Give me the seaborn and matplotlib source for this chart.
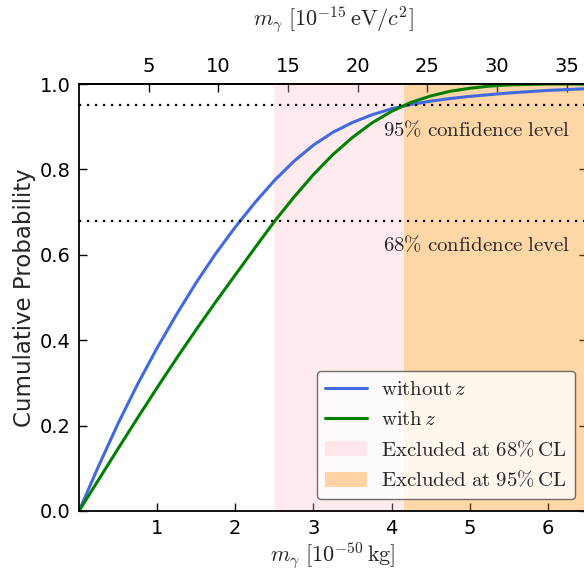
import numpy as np
import pandas as pd
import matplotlib
matplotlib.use("Agg")
import matplotlib.pyplot as plt
import seaborn as sns

# data
mass = [0.0, 0.25, 0.5, 0.75, 1.0, 1.25, 1.5, 1.75, 2.0, 2.25, 2.5, 2.75, 3.0,
        3.25, 3.5, 3.75, 4.0, 4.25, 4.5, 4.75, 5.0, 5.25, 5.5, 5.75, 6.0, 6.25, 6.5]
cdf_without_z = [0.0, 0.105, 0.205, 0.297, 0.382, 0.461, 0.535, 0.603, 0.665, 0.722, 0.774,
                 0.819, 0.857, 0.887, 0.910, 0.928, 0.942, 0.952, 0.960, 0.966, 0.971,
                 0.975, 0.979, 0.982, 0.985, 0.987, 0.989]
cdf_with_z = [0.0, 0.073, 0.146, 0.218, 0.289, 0.358, 0.425, 0.490, 0.553, 0.616, 0.678,
              0.735, 0.788, 0.835, 0.875, 0.909, 0.936, 0.957, 0.972, 0.983, 0.990,
              0.995, 0.998, 0.999, 1.0, 1.0, 1.0]
excl68 = (2.50, 4.16)
excl95 = (4.16, 7.0)
conf_levels = [0.68, 0.95]
conf_labels = [r"$68\%\ \mathrm{confidence\ level}$", r"$95\%\ \mathrm{confidence\ level}$"]
top_ticks = [5, 10, 15, 20, 25, 30, 35]
KG_TO_EV = 5.6096  # 1e-50 kg -> 1e-15 eV/c^2

df = pd.DataFrame({
    "m": mass * 2,
    "p": cdf_without_z + cdf_with_z,
    "series": [r"$\mathrm{without}\,z$"] * len(mass) + [r"$\mathrm{with}\,z$"] * len(mass),
})

sns.set_theme(style="ticks")
plt.rcParams.update({
    "font.family": ["DejaVu Sans"],
    "mathtext.fontset": "cm",
    "xtick.direction": "in",
    "ytick.direction": "in",
    "xtick.major.size": 6,
    "ytick.major.size": 6,
    "xtick.color": "black",
    "ytick.color": "black",
    "axes.edgecolor": "black",
    "axes.linewidth": 1.3,
})

fig = plt.figure(figsize=(5.84, 5.70), dpi=100)
ax = fig.add_axes([79 / 584, 59 / 570, (587 - 79) / 584, (511 - 84) / 570])

ax.axvspan(*excl68, color="pink", alpha=0.33, lw=0, label=r"$\mathrm{Excluded\ at\ 68\%\,CL}$")
ax.axvspan(*excl95, color="darkorange", alpha=0.35, lw=0, label=r"$\mathrm{Excluded\ at\ 95\%\,CL}$")

sns.lineplot(data=df, x="m", y="p", hue="series", palette=["royalblue", "green"],
             linewidth=2.2, ax=ax, legend=True)

for lvl, lab in zip(conf_levels, conf_labels):
    ax.axhline(lvl, color="black", ls=(0, (1, 2.6)), lw=1.6)
    ax.text(6.29, lvl - 0.058, lab, ha="right", va="center", fontsize=15)

ax.set_xlim(0, 6.5)
ax.set_ylim(0, 1.0)
ax.set_xticks([1, 2, 3, 4, 5, 6])
ax.set_yticks([0.0, 0.2, 0.4, 0.6, 0.8, 1.0])
ax.set_yticklabels([f"{v:.1f}" for v in [0.0, 0.2, 0.4, 0.6, 0.8, 1.0]])
ax.tick_params(axis="both", labelsize=14, right=True, top=False, width=1, pad=6)
ax.set_xlabel(r"$m_\gamma\ [10^{-50}\,\mathrm{kg}]$", fontsize=16, labelpad=2)
ax.set_ylabel("Cumulative Probability", fontsize=16.5, labelpad=3)

sec = ax.secondary_xaxis("top", functions=(lambda x: x * KG_TO_EV, lambda x: x / KG_TO_EV))
sec.set_xticks(top_ticks)
sec.tick_params(direction="in", labelsize=14, length=6, width=1, pad=6)
sec.set_xlabel(r"$m_\gamma\ [10^{-15}\,\mathrm{eV}/c^2]$", fontsize=16, labelpad=22)

handles, labels = ax.get_legend_handles_labels()
order = [2, 3, 0, 1]
leg = ax.legend([handles[i] for i in order], [labels[i] for i in order],
                loc="lower right", bbox_to_anchor=(0.997, 0.004), fontsize=15,
                frameon=True, fancybox=True, framealpha=0.8, edgecolor="0.3",
                handlelength=2.0, borderpad=0.4, labelspacing=0.48, handletextpad=0.7)
leg.get_frame().set_linewidth(1.0)

fig.savefig("out.png", dpi=100)
